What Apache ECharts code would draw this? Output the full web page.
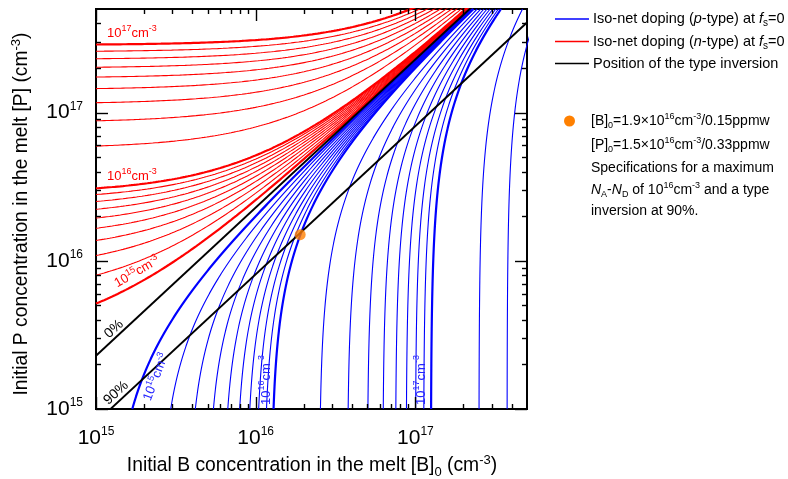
<!DOCTYPE html>
<html>
<head>
<meta charset="utf-8">
<title>Iso-net doping map of B and P in the melt</title>
<script src="https://cdn.jsdelivr.net/npm/echarts@6/dist/echarts.min.js"></script>
<style>
  html, body { margin: 0; padding: 0; background: #ffffff; }
  #chart { width: 788px; height: 479px; }
</style>
</head>
<body>
<div id="chart"></div>
<script>
// Axis ranges (cm^-3)
const xRange = [1e15, 5e17];
const yRange = [1e15, 5e17];

// Equilibrium segregation coefficients of B and P in silicon
const kB = 0.8;
const kP = 0.35;

// Net doping levels at fs = 0 (cm^-3)
const pTypeLevels = [1e15, 2e15, 3e15, 4e15, 5e15, 6e15, 7e15, 8e15, 9e15,
                     1e16, 2e16, 3e16, 4e16, 5e16, 6e16, 7e16, 8e16, 9e16,
                     1e17, 2e17, 3e17];
const nTypeLevels = [1e15, 2e15, 3e15, 4e15, 5e15, 6e15, 7e15, 8e15, 9e15,
                     1e16, 2e16, 3e16, 4e16, 5e16, 6e16, 7e16, 8e16, 9e16,
                     1e17];
const boldLevels = [1e15, 1e16, 1e17];

// Solidified fractions at which the type inversion is traced
const inversionFractions = [0, 0.9];

// Specification point
const specB = 1.9e16;
const specP = 1.5e16;
const specBppmw = 0.15;
const specPppmw = 0.33;
const specNet = 1e16;
const specFraction = 0.9;

// Axis tick values
const majorTicks = [1e15, 1e16, 1e17];
const minorTicks = [2e15, 3e15, 4e15, 5e15, 6e15, 7e15, 8e15, 9e15,
                    2e16, 3e16, 4e16, 5e16, 6e16, 7e16, 8e16, 9e16,
                    2e17, 3e17, 4e17];

const FONT = '"Liberation Sans", Arial, Helvetica, sans-serif';
const RED = '#ff0000';
const BLUE = '#0000ff';
const ORANGE = '#ff8000';

// ---- curves --------------------------------------------------------------
const STEPS = 320;
function logGrid(lo, hi) {
  const a = Math.log10(lo), b = Math.log10(hi), out = [];
  for (let i = 0; i < STEPS; i++) out.push(Math.pow(10, a + (b - a) * i / (STEPS - 1)));
  return out;
}
const bGrid = logGrid(xRange[0], xRange[1]);
const pGrid = logGrid(yRange[0], yRange[1]);

const isBold = n => boldLevels.indexOf(n) >= 0;

// n-type iso-net doping: kP[P] - kB[B] = N
const nSeries = nTypeLevels.map(n => ({
  type: 'line', name: 'n-type', showSymbol: false, symbol: 'none', silent: true,
  clip: true, z: 2,
  lineStyle: { color: RED, width: isBold(n) ? 2.2 : 1.1 },
  data: bGrid.map(b => [b, (n + kB * b) / kP])
}));

// p-type iso-net doping: kB[B] - kP[P] = N
const pSeries = pTypeLevels.map(n => ({
  type: 'line', name: 'p-type', showSymbol: false, symbol: 'none', silent: true,
  clip: true, z: 2,
  lineStyle: { color: BLUE, width: isBold(n) ? 2.2 : 1.1 },
  data: pGrid.map(p => [(n + kP * p) / kB, p])
}));

// Type inversion: kB[B](1-fs)^(kB-1) = kP[P](1-fs)^(kP-1)
const invSeries = inversionFractions.map(fs => {
  const r = (kB / kP) * Math.pow(1 - fs, kB - kP);
  return {
    type: 'line', name: 'inversion', showSymbol: false, symbol: 'none', silent: true,
    clip: true, z: 3,
    lineStyle: { color: '#000', width: 1.9 },
    data: [[xRange[0], r * xRange[0]], [xRange[1], r * xRange[1]]]
  };
});

// ---- ticks drawn inside the frame on all four sides -------------------------
const tickValues = majorTicks.concat(minorTicks);
function tickLen(v) { return majorTicks.indexOf(v) >= 0 ? 12 : 5; }
const tickStyle = { stroke: '#000', lineWidth: 1.4 };

const xTickSeries = {
  type: 'custom', silent: true, clip: false, z: 5,
  encode: { x: 0, y: 1 },
  data: tickValues.filter(v => v <= xRange[1]).map(v => [v, yRange[0]]),
  renderItem(params, api) {
    const v = api.value(0);
    const cs = params.coordSys;
    const px = Math.round(api.coord([v, yRange[0]])[0]) + 0.5;
    const L = tickLen(v), bottom = cs.y + cs.height, top = cs.y;
    return { type: 'group', children: [
      { type: 'line', shape: { x1: px, y1: bottom, x2: px, y2: bottom - L }, style: tickStyle },
      { type: 'line', shape: { x1: px, y1: top, x2: px, y2: top + L }, style: tickStyle }
    ]};
  }
};
const yTickSeries = {
  type: 'custom', silent: true, clip: false, z: 5,
  encode: { x: 0, y: 1 },
  data: tickValues.filter(v => v <= yRange[1]).map(v => [xRange[0], v]),
  renderItem(params, api) {
    const v = api.value(1);
    const cs = params.coordSys;
    const py = Math.round(api.coord([xRange[0], v])[1]) + 0.5;
    const L = tickLen(v), left = cs.x, right = cs.x + cs.width;
    return { type: 'group', children: [
      { type: 'line', shape: { x1: left, y1: py, x2: left + L, y2: py }, style: tickStyle },
      { type: 'line', shape: { x1: right, y1: py, x2: right - L, y2: py }, style: tickStyle }
    ]};
  }
};

const specSeries = {
  type: 'scatter', silent: true, z: 6, symbol: 'circle', symbolSize: 11,
  itemStyle: { color: ORANGE },
  data: [[specB, specP]]
};

// ---- text helpers ----------------------------------------------------------
function richSet(size, color) {
  const lh = Math.round(size * 1.3);
  const small = Math.round(size * 0.66);
  const base = { fontFamily: FONT, fill: color, color: color };
  return {
    n: Object.assign({ fontSize: size, lineHeight: lh }, base),
    i: Object.assign({ fontSize: size, lineHeight: lh, fontStyle: 'italic' }, base),
    sup: Object.assign({ fontSize: small, lineHeight: small + 2, verticalAlign: 'top' }, base),
    sub: Object.assign({ fontSize: small, lineHeight: small + 2, verticalAlign: 'bottom' }, base)
  };
}
const t = s => '{n|' + s + '}';
const it = s => '{i|' + s + '}';
const sp = s => '{sup|' + s + '}';
const sb = s => '{sub|' + s + '}';
function sci(v) {
  const e = Math.floor(Math.log10(v) + 1e-9);
  const m = Math.round(v / Math.pow(10, e) * 10) / 10;
  return { m: String(m), e: e };
}
const powText = v => t('10') + sp(String(Math.round(Math.log10(v))));
const levelText = v => powText(v) + t('cm') + sp('-3');

function textEl(x, y, text, size, color, opts) {
  opts = opts || {};
  return {
    type: 'text', x: x, y: y, rotation: opts.rotation || 0, silent: true, z: 20,
    style: {
      text: text, rich: richSet(size, color), fontFamily: FONT, fontSize: size, fill: color,
      align: opts.align || 'left', verticalAlign: opts.verticalAlign || 'middle'
    }
  };
}

function powerLabel(value) {
  const e = Math.log10(value);
  const r = Math.round(e);
  if (Math.abs(e - r) > 1e-6) return '';
  return '{b|10}{e|' + r + '}';
}
const tickRich = {
  b: { fontSize: 21, lineHeight: 24, fontFamily: FONT, color: '#000' },
  e: { fontSize: 12, lineHeight: 14, verticalAlign: 'top', fontFamily: FONT, color: '#000' }
};

// ---- annotations -------------------------------------------------------------
const bParts = sci(specB), pParts = sci(specP), netParts = sci(specNet);
const deg = Math.PI / 180;

const graphics = [
  // axis titles
  textEl(312, 466, t('Initial B concentration in the melt [B]') + sb('0') + t(' (cm') + sp('-3') + t(')'),
         19.3, '#000', { align: 'center' }),
  textEl(22, 214, t('Initial P concentration in the melt [P] (cm') + sp('-3') + t(')'),
         19.3, '#000', { align: 'center', rotation: 90 * deg }),

  // legend
  { type: 'line', silent: true, shape: { x1: 555, y1: 19, x2: 589, y2: 19 }, style: { stroke: BLUE, lineWidth: 1.5 } },
  { type: 'line', silent: true, shape: { x1: 555, y1: 41.5, x2: 589, y2: 41.5 }, style: { stroke: RED, lineWidth: 1.5 } },
  { type: 'line', silent: true, shape: { x1: 555, y1: 63.5, x2: 589, y2: 63.5 }, style: { stroke: '#000', lineWidth: 1.5 } },
  textEl(593, 19, t('Iso-net doping (') + it('p') + t('-type) at ') + it('f') + sb('s') + t('=0'), 14.5, '#000'),
  textEl(593, 41.5, t('Iso-net doping (') + it('n') + t('-type) at ') + it('f') + sb('s') + t('=0'), 14.5, '#000'),
  textEl(593, 63.5, t('Position of the type inversion'), 14.5, '#000'),

  // specification note
  { type: 'circle', silent: true, shape: { cx: 569.5, cy: 121, r: 5.5 }, style: { fill: ORANGE } },
  textEl(591, 121, t('[B]') + sb('0') + t('=' + bParts.m + '×10') + sp(String(bParts.e)) + t('cm') + sp('-3') +
         t('/' + specBppmw.toFixed(2) + 'ppmw'), 14, '#000'),
  textEl(591, 145, t('[P]') + sb('0') + t('=' + pParts.m + '×10') + sp(String(pParts.e)) + t('cm') + sp('-3') +
         t('/' + specPppmw.toFixed(2) + 'ppmw'), 14, '#000'),
  textEl(591, 168, t('Specifications for a maximum'), 14, '#000'),
  textEl(591, 190, it('N') + sb('A') + t('-') + it('N') + sb('D') + t(' of 10') + sp(String(netParts.e)) +
         t('cm') + sp('-3') + t(' and a type'), 14, '#000'),
  textEl(591, 211, t('inversion at ' + Math.round(specFraction * 100) + '%.'), 14, '#000'),

  // curve labels
  textEl(107, 33, levelText(1e17), 13, RED),
  textEl(107, 176, levelText(1e16), 13, RED),
  textEl(137, 272, levelText(1e15), 13, RED, { align: 'center', rotation: 30 * deg }),
  textEl(114, 329, t(Math.round(inversionFractions[0] * 100) + '%'), 14, '#000', { align: 'center', rotation: 42 * deg }),
  textEl(116, 393, t(Math.round(inversionFractions[1] * 100) + '%'), 14, '#000', { align: 'center', rotation: 42 * deg }),
  textEl(156, 377, levelText(1e15), 13, '#2424ff', { align: 'center', rotation: 69 * deg }),
  textEl(266, 380, levelText(1e16), 13, '#2424ff', { align: 'center', rotation: 90 * deg }),
  textEl(421, 380, levelText(1e17), 13, '#2424ff', { align: 'center', rotation: 90 * deg })
];

// ---- chart -------------------------------------------------------------------
const chart = echarts.init(document.getElementById('chart'), null, { renderer: 'canvas' });
chart.setOption({
  animation: false,
  backgroundColor: '#ffffff',
  grid: { left: 96, top: 9, width: 431, height: 400, show: true, borderColor: '#000', borderWidth: 2, backgroundColor: 'transparent' },
  xAxis: {
    type: 'log', logBase: 10, min: xRange[0], max: xRange[1],
    axisLine: { show: false }, axisTick: { show: false }, splitLine: { show: false },
    minorTick: { show: false }, minorSplitLine: { show: false },
    axisLabel: { formatter: powerLabel, rich: tickRich, margin: 17, color: '#000' }
  },
  yAxis: {
    type: 'log', logBase: 10, min: yRange[0], max: yRange[1],
    axisLine: { show: false }, axisTick: { show: false }, splitLine: { show: false },
    minorTick: { show: false }, minorSplitLine: { show: false },
    axisLabel: { formatter: powerLabel, rich: tickRich, margin: 13, color: '#000' }
  },
  series: [].concat(nSeries, pSeries, invSeries, [specSeries, xTickSeries, yTickSeries]),
  graphic: graphics
});
</script>
</body>
</html>
